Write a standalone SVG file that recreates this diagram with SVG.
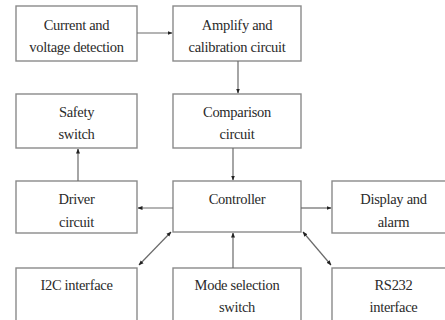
<svg xmlns="http://www.w3.org/2000/svg" width="445" height="320" viewBox="0 0 445 320">
<style>
.box{fill:#fff;stroke:#8a8a8a;stroke-width:1.4}
.t{font-size:14.5px;fill:#2a2a2a;text-anchor:middle;letter-spacing:-0.3px}
.c{stroke:#6a6a6a;stroke-width:1.2;fill:none}
</style>
<defs>
<marker id="ah" viewBox="0 0 5 5" refX="4.5" refY="2.5" markerWidth="5" markerHeight="5" markerUnits="userSpaceOnUse" orient="auto-start-reverse">
<path d="M0,0.5 L5,2.5 L0,4.5 Z" fill="#222"/>
</marker>
</defs>
<rect width="445" height="320" fill="#fff"/>
<g font-family="Liberation Serif, DejaVu Serif, serif">
<g id="n1"><rect class="box" x="16" y="6" width="121" height="55"/><text class="t" x="76.5" y="30">Current and</text><text class="t" x="76.5" y="52">voltage detection</text></g>
<g id="n2"><rect class="box" x="173" y="6" width="128" height="55"/><text class="t" x="237" y="30">Amplify and</text><text class="t" x="237" y="52">calibration circuit</text></g>
<g id="n3"><rect class="box" x="16" y="94" width="121" height="54"/><text class="t" x="76.5" y="117">Safety</text><text class="t" x="76.5" y="139">switch</text></g>
<g id="n4"><rect class="box" x="173" y="94" width="128" height="54"/><text class="t" x="237" y="117">Comparison</text><text class="t" x="237" y="139">circuit</text></g>
<g id="n5"><rect class="box" x="16" y="181" width="121" height="52"/><text class="t" x="76.5" y="204">Driver</text><text class="t" x="76.5" y="227">circuit</text></g>
<g id="n6"><rect class="box" x="173" y="181" width="128" height="51"/><text class="t" x="237" y="204">Controller</text></g>
<g id="n7"><rect class="box" x="332" y="181" width="123" height="52"/><text class="t" x="393.5" y="204">Display and</text><text class="t" x="393.5" y="227">alarm</text></g>
<g id="n8"><rect class="box" x="16" y="268" width="121" height="60"/><text class="t" x="76.5" y="290">I2C interface</text></g>
<g id="n9"><rect class="box" x="173" y="268" width="128" height="60"/><text class="t" x="237" y="290">Mode selection</text><text class="t" x="237" y="312">switch</text></g>
<g id="n10"><rect class="box" x="332" y="268" width="123" height="60"/><text class="t" x="393.5" y="290">RS232</text><text class="t" x="393.5" y="312">interface</text></g>
</g>
<g id="connectors">
<line class="c" x1="137" y1="33" x2="172" y2="33" marker-end="url(#ah)"/>
<line class="c" x1="238" y1="61" x2="238" y2="93" marker-end="url(#ah)"/>
<line class="c" x1="233" y1="148" x2="233" y2="180" marker-end="url(#ah)"/>
<line class="c" x1="78" y1="181" x2="78" y2="149" marker-end="url(#ah)"/>
<line class="c" x1="173" y1="208" x2="138" y2="208" marker-end="url(#ah)"/>
<line class="c" x1="301" y1="208" x2="331" y2="208" marker-end="url(#ah)"/>
<line class="c" x1="233" y1="268" x2="233" y2="233" marker-end="url(#ah)"/>
<line class="c" x1="171" y1="232" x2="139" y2="265" marker-start="url(#ah)" marker-end="url(#ah)"/>
<line class="c" x1="303" y1="232" x2="331" y2="265" marker-start="url(#ah)" marker-end="url(#ah)"/>
</g>
</svg>
